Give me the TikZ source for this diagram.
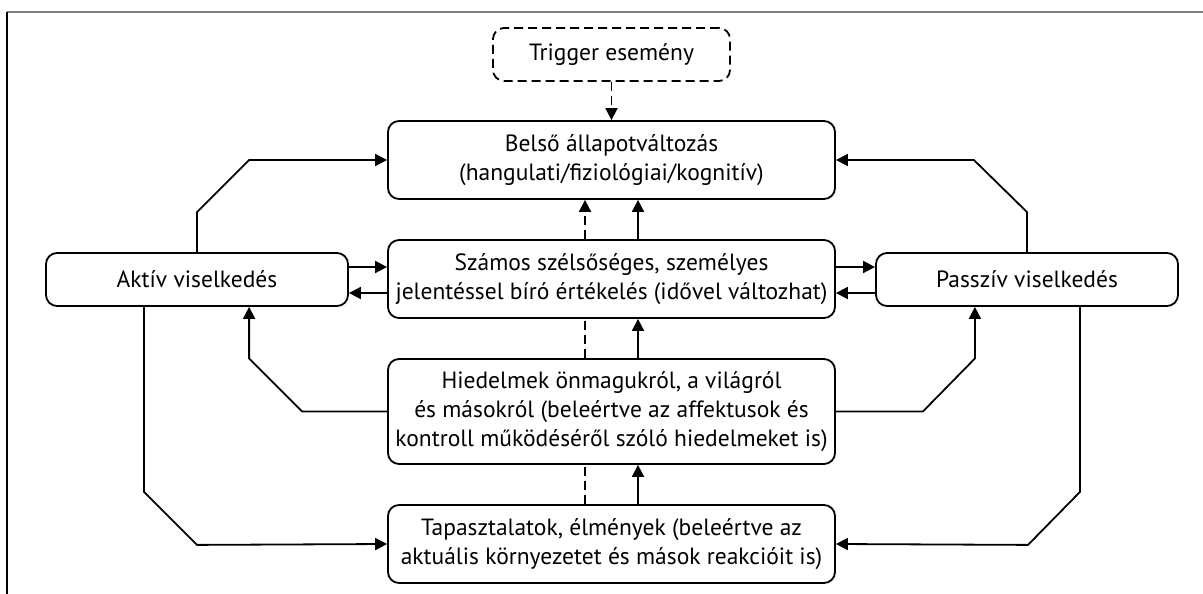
\documentclass[tikz,border=0pt]{standalone}
\usepackage{fontspec}
\setmainfont{PT Sans}
\usetikzlibrary{arrows.meta,calc}
\begin{document}
\begin{tikzpicture}[x=1pt,y=-1pt,
  box/.style={draw, rounded corners=11pt, line width=1.8pt, align=center, inner sep=0pt,
    font=\fontsize{23.5}{29}\selectfont},
  conn/.style={line width=1.8pt},
  arr/.style={conn, -{Triangle[length=12pt,width=12pt]}},
  dsh/.style={dash pattern=on 9pt off 5pt}
]
\useasboundingbox (0,0) rectangle (1203,594);
\draw[line width=2pt, gray] (7,12) coordinate (tl) -- (1203,12) coordinate (tr);
\draw[line width=1.5pt] (tl) -- (7,594) coordinate (bl);

\node[box, dsh, minimum width=237pt, minimum height=53pt] (trig) at (611.5,54.5) {Trigger esemény};
\node[box, minimum width=447pt, minimum height=78pt] (bel) at (611.5,160) {Belső állapotváltozás\\(hangulati/fiziológiai/kognitív)};
\node[box, minimum width=447pt, minimum height=78pt] (sza) at (611.5,279) {Számos szélsőséges, személyes\\jelentéssel bíró értékelés (idővel változhat)};
\node[box, minimum width=447pt, minimum height=105pt] (hie) at (611.5,411.5) {Hiedelmek önmagukról, a világról\\és másokról (beleértve az affektusok és\\kontroll működéséről szóló hiedelmeket is)};
\node[box, minimum width=447pt, minimum height=78pt] (tap) at (611.5,544) {Tapasztalatok, élmények (beleértve az\\aktuális környezetet és mások reakcióit is)};
\node[box, minimum width=302pt, minimum height=53pt] (akt) at (197,279.5) {Aktív viselkedés};
\node[box, minimum width=302pt, minimum height=53pt] (pas) at (1027,279.5) {Passzív viselkedés};

% trigger
\draw[arr, dsh] (trig.south) -- (bel.north);
% vertical pairs
\draw[arr, dsh] ($(sza.north)+(-26.5,0)$) -- ($(bel.south)+(-26.5,0)$);
\draw[arr] ($(sza.north)+(26.5,0)$) -- ($(bel.south)+(26.5,0)$);
\draw[conn, dsh] ($(hie.north)+(-26.5,0)$) -- ($(sza.south)+(-26.5,0)$);
\draw[arr] ($(hie.north)+(26.5,0)$) -- ($(sza.south)+(26.5,0)$);
\draw[conn, dsh] ($(tap.north)+(-26.5,0)$) -- ($(hie.south)+(-26.5,0)$);
\draw[arr] ($(tap.north)+(26.5,0)$) -- ($(hie.south)+(26.5,0)$);

% horizontal pairs
\coordinate (a1) at ($(akt.east)+(0,-12.5)$);
\coordinate (a2) at ($(akt.east)+(0,13.5)$);
\coordinate (p1) at ($(pas.west)+(0,-12.5)$);
\coordinate (p2) at ($(pas.west)+(0,13.5)$);
\draw[arr] (a1) -- (a1 -| sza.west);
\draw[arr] (a2 -| sza.west) -- (a2);
\draw[arr] (p1 -| sza.east) -- (p1);
\draw[arr] (p2) -- (p2 -| sza.east);

% side loops to Belso
\draw[arr] (akt.north) -- ++(0,-40) -- ($(bel.west)+(-138,0)$) -- (bel.west);
\draw[arr] (pas.north) -- ++(0,-40) -- ($(bel.east)+(138,0)$) -- (bel.east);

% Hiedelmek to behaviours
\draw[arr] (hie.west) -- ++(-85,0) -- ++(-53,-53) coordinate (h1) -- (h1 |- akt.south);
\draw[arr] (hie.east) -- ++(87,0) -- ++(52,-53) coordinate (h2) -- (h2 |- pas.south);

% behaviours to Tapasztalatok
\draw[arr] ($(akt.south)+(-53,0)$) -- ++(0,185) -- ++(53,53) -- (tap.west);
\draw[arr] ($(pas.south)+(53,0)$) -- ++(0,185) -- ++(-52,53) -- (tap.east);
\end{tikzpicture}
\end{document}
